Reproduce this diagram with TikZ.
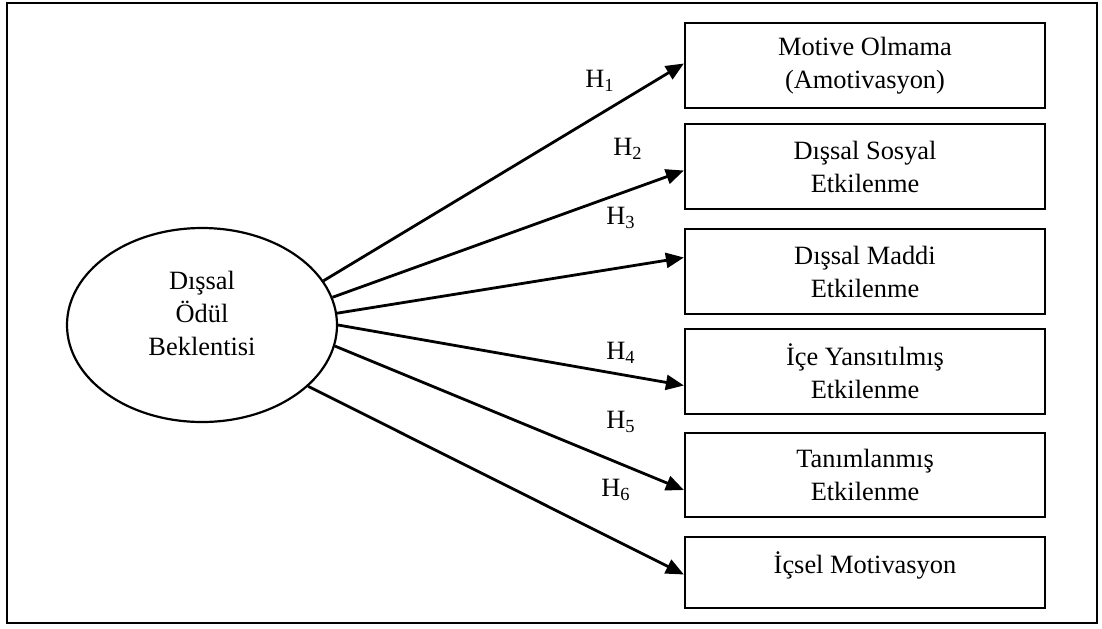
\documentclass[tikz,border=0pt]{standalone}
\usepackage{fontspec}
\setmainfont{Liberation Serif}
\usetikzlibrary{positioning, arrows.meta, shapes.geometric}

\begin{document}
\begin{tikzpicture}[x=0.5pt, y=-0.5pt,
        font=\fontsize{13.2pt}{16.5pt}\selectfont,
        kutu/.style={draw, line width=1.1pt, minimum width=180pt, minimum height=42.5pt, inner sep=0pt, align=center},
        ok/.style={->, line width=1.4pt, >={Triangle[length=9pt, width=7.5pt]}}]
        \useasboundingbox (0,0) rectangle (1102,628);
        \draw[line width=1pt] (7,3) rectangle (1097,623);
        % sol taraf
        \draw (202,325) node[draw, ellipse, line width=1.1pt, minimum width=135pt, minimum height=97pt, inner sep=0pt] (odul) {}
              (202,313) node[align=center] (odulyazi) {Dışsal\\Ödül\\Beklentisi};
        % sag taraftaki kutular
        \draw (865,65.5) node[kutu] (amot) {Motive Olmama\\(Amotivasyon)}
              (865,166.5) node[kutu] (sosyal) {Dışsal Sosyal\\Etkilenme}
              (865,271.5) node[kutu] (maddi) {Dışsal Maddi\\Etkilenme}
              (865,371.5) node[kutu] (icyans) {İçe Yansıtılmış\\Etkilenme}
              (865,475) node[kutu, minimum height=42pt] (tanim) {Tanımlanmış\\Etkilenme}
              (865,572.5) node[kutu, minimum height=35.5pt, text depth=10pt] (icsel) {İçsel Motivasyon};
        \draw[ok] (odul.20) -- ([yshift=1pt]amot.west);
        \draw[ok] (odul.12.5) -- ([yshift=-2pt]sosyal.west);
        \draw[ok] (odul.5) -- ([yshift=7pt]maddi.west);
        \draw[ok] (odul.-0.5) -- ([yshift=-7pt]icyans.west);
        \draw[ok] (odul.-9) -- ([yshift=-7.5pt]tanim.west);
        \draw[ok] (odul.-30) -- ([yshift=-1pt]icsel.west);
        \draw (600,81) node (h1) {H\textsubscript{1}}
              (628,149) node (h2) {H\textsubscript{2}}
              (621,218) node (h3) {H\textsubscript{3}}
              (621,353) node (h4) {H\textsubscript{4}}
              (621,422) node (h5) {H\textsubscript{5}}
              (616,490) node (h6) {H\textsubscript{6}};
\end{tikzpicture}
\end{document}
